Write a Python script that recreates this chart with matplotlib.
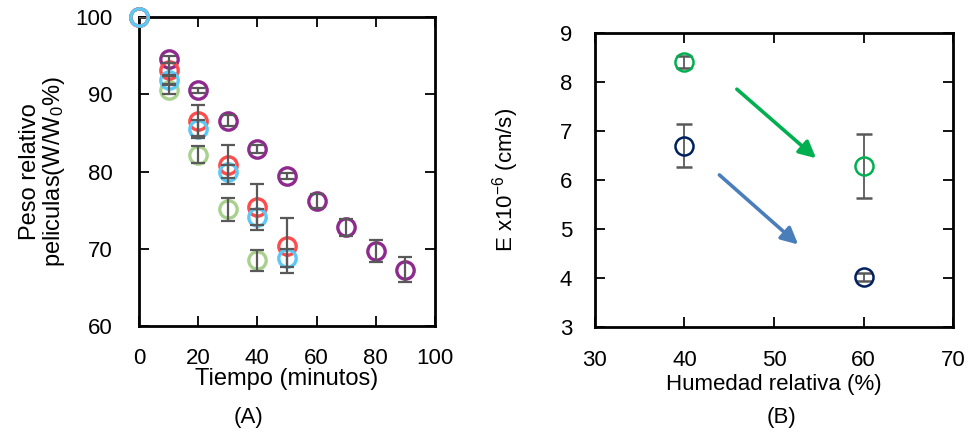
import numpy as np
import matplotlib
matplotlib.use("Agg")
import matplotlib.pyplot as plt

plt.rcParams['font.family'] = ['Liberation Sans', 'DejaVu Sans']
plt.rcParams['mathtext.fontset'] = 'custom'
plt.rcParams['mathtext.rm'] = 'Liberation Sans'
plt.rcParams['mathtext.it'] = 'Liberation Sans'

# (A) peso relativo de las peliculas vs tiempo
t_rojo = [0, 10, 20, 30, 40, 50]
peso_rojo = [100, 93.2, 86.6, 80.9, 75.4, 70.4]
err_rojo = [0, 0.8, 2.0, 2.5, 3.0, 3.6]

t_cian = [0, 10, 20, 30, 40, 50]
peso_cian = [100, 91.9, 85.5, 80.0, 74.1, 68.8]
err_cian = [0, 0.6, 1.2, 0.8, 1.0, 1.2]

t_verde = [0, 10, 20, 30, 40]
peso_verde = [100, 90.6, 82.2, 75.1, 68.5]
err_verde = [0, 0.6, 1.1, 1.5, 1.4]

t_morado = [0, 10, 20, 30, 40, 50, 60, 70, 80, 90]
peso_morado = [100, 94.5, 90.5, 86.6, 82.9, 79.4, 76.2, 72.8, 69.7, 67.3]
err_morado = [0, 0.5, 0.3, 0.7, 0.5, 0.4, 0.9, 1.1, 1.4, 1.6]

# (B) permeabilidad vs humedad relativa
hr = [40, 60]
E_verde = [8.42, 6.29]
errE_verde = [0.12, 0.65]
E_azul = [6.71, 4.03]
errE_azul = [0.43, 0.08]

fig = plt.figure(figsize=(9.69, 4.36), dpi=100)
ax1 = fig.add_axes([0.1434, 0.2523, 0.3055, 0.7087])
ax2 = fig.add_axes([0.614, 0.2493, 0.3695, 0.6743])

gris = '#595959'
series = [
    (t_morado, peso_morado, err_morado, '#8E2A8E'),
    (t_verde, peso_verde, err_verde, '#A9D18E'),
    (t_rojo, peso_rojo, err_rojo, '#FF4B4B'),
    (t_cian, peso_cian, err_cian, '#5BC8F5'),
]
for x, y, e, c in series:
    ax1.plot(x, y, 'o', ms=12.5, mfc='none', mec=c, mew=2.4, zorder=3, clip_on=False)
for x, y, e, c in series:
    ax1.errorbar(x, y, yerr=e, fmt='none', ecolor=gris, elinewidth=1.6,
                 capsize=5, capthick=1.6, zorder=4)

ax1.set_xlim(0, 100)
ax1.set_ylim(60, 100)
ax1.set_xticks(np.arange(0, 101, 20))
ax1.set_yticks(np.arange(60, 101, 10))
ax1.set_xlabel('Tiempo (minutos)', fontsize=17, labelpad=-1)
ax1.set_ylabel('Peso relativo\npeliculas(W/W$_0$%)', fontsize=17, labelpad=6, linespacing=1.0)

ax2.errorbar(hr, E_verde, yerr=errE_verde, fmt='o', ms=13, mfc='none', mec='#00B050',
             mew=1.8, ecolor=gris, elinewidth=1.3, capsize=6, capthick=1.3)
ax2.errorbar(hr, E_azul, yerr=errE_azul, fmt='o', ms=13, mfc='none', mec='#002060',
             mew=1.8, ecolor=gris, elinewidth=1.3, capsize=6, capthick=1.3)

# flechas de tendencia
ax2.annotate('', xy=(54.7, 6.45), xytext=(45.85, 7.86),
             arrowprops=dict(arrowstyle='-|>,head_length=1.0,head_width=0.5',
                             color='#00B050', lw=2.6, shrinkA=0, shrinkB=0))
ax2.annotate('', xy=(52.7, 4.69), xytext=(43.9, 6.11),
             arrowprops=dict(arrowstyle='-|>,head_length=1.0,head_width=0.5',
                             color='#4A7EBB', lw=2.6, shrinkA=0, shrinkB=0))

ax2.set_xlim(30, 70)
ax2.set_ylim(3, 9)
ax2.set_xticks(np.arange(30, 71, 10))
ax2.set_yticks(np.arange(3, 10, 1))
ax2.set_xlabel('Humedad relativa (%)', fontsize=16, labelpad=2)
ax2.set_ylabel('E x10$^{-6}$ (cm/s)', fontsize=16, labelpad=28)

for ax, px, py in [(ax1, 16, 19), (ax2, 16.5, 16.5)]:
    for s in ax.spines.values():
        s.set_linewidth(2)
    ax.tick_params(direction='in', top=True, right=True, length=7, width=1.3,
                   labelsize=16)
    ax.tick_params(axis='x', pad=px)
    ax.tick_params(axis='y', pad=py)

fig.text(0.256, 0.029, '(A)', fontsize=16, ha='center')
fig.text(0.806, 0.029, '(B)', fontsize=16, ha='center')

fig.savefig('out.png', dpi=100)
